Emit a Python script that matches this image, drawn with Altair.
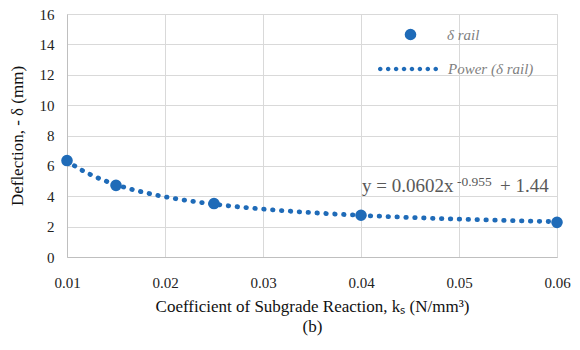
import altair as alt
import pandas as pd

# Data
k_values = [0.01, 0.015, 0.025, 0.04, 0.06]
deflection = [6.35, 4.72, 3.52, 2.75, 2.28]
series_name = "δ rail"
trend_name = "Power (δ rail)"

# Power trendline coefficients (shown on the chart): y = a*x^b + c
a_coef, b_coef, c_coef = 0.0602, -0.955, 1.44
x_ticks = [0.01, 0.02, 0.03, 0.04, 0.05, 0.06]
y_ticks = [0, 2, 4, 6, 8, 10, 12, 14, 16]
eq_parts = ["y = 0.0602x", "-0.955", "+ 1.44"]

BLUE = "#1f6bb8"
SERIF = "Liberation Serif"

# dotted legend symbol: a row of small filled circles in the unit square
def dotted_path(n=8, r=0.075):
    parts = []
    for i in range(n):
        cx = -1 + r + i * (2 - 2 * r) / (n - 1)
        parts.append(f"M{cx - r:.4f},0A{r},{r} 0 1,0 {cx + r:.4f},0A{r},{r} 0 1,0 {cx - r:.4f},0Z")
    return "".join(parts)

df = pd.DataFrame({"k": k_values, "d": deflection, "s": series_name})

axis_style = dict(labelFont=SERIF, labelFontSize=15, labelColor="#222222",
                  titleFont=SERIF, titleFontSize=17, titleFontWeight="normal", titleColor="#111111",
                  labelFlush=False, ticks=False, grid=True, gridColor="#d9d9d9",
                  domainColor="#bfbfbf")

xs = alt.X("k:Q", scale=alt.Scale(domain=[0.01, 0.06], nice=False, zero=False),
           axis=alt.Axis(values=x_ticks, format=".2f", labelPadding=18, titlePadding=8,
                         titleLineHeight=20,
                         title=["Coefficient of Subgrade Reaction, kₛ (N/mm³)", "(b)"], **axis_style))
ys = alt.Y("d:Q", scale=alt.Scale(domain=[0, 16], nice=False),
           axis=alt.Axis(values=y_ticks, labelPadding=13, titlePadding=13,
                         title="Deflection, - δ (mm)", **axis_style))

points = alt.Chart(df).mark_point(filled=True, size=135, opacity=1).encode(
    x=xs, y=ys,
    color=alt.Color("s:N", scale=alt.Scale(domain=[series_name], range=[BLUE]),
                    legend=alt.Legend(orient="none", legendX=336, legendY=13, title=None,
                                      symbolType="circle", symbolSize=135,
                                      labelOffset=29, labelFont=SERIF, labelFontSize=15,
                                      labelFontStyle="italic", labelColor="#7f7f7f")),
)

trend = alt.Chart(alt.sequence(start=0.01, stop=0.06005, step=0.0005, as_="k")).transform_calculate(
    d=f"{a_coef} * pow(datum.k, {b_coef}) + {c_coef}",
    s2=f"'{trend_name}'",
).mark_line(color=BLUE, strokeWidth=4.8, strokeCap="round").encode(
    x=xs, y=ys,
    strokeDash=alt.StrokeDash("s2:N", scale=alt.Scale(domain=[trend_name], range=[[0.5, 8.4]]),
                              legend=alt.Legend(orient="none", legendX=311, legendY=25, title=None,
                                                symbolType=dotted_path(), symbolSize=3600,
                                                symbolFillColor=BLUE, symbolStrokeColor=BLUE,
                                                symbolStrokeWidth=0,
                                                labelOffset=10, labelFont=SERIF, labelFontSize=15,
                                                labelFontStyle="italic", labelColor="#7f7f7f")),
)

eq_df = pd.DataFrame({"k": [0.0401], "d": [4.28]})
eq_main = alt.Chart(eq_df).mark_text(text=eq_parts[0], align="left", baseline="alphabetic",
                                     font=SERIF, fontSize=19, color="#595959").encode(x=xs, y=ys)
eq_sup = alt.Chart(eq_df).mark_text(text=eq_parts[1], align="left", baseline="alphabetic",
                                    font=SERIF, fontSize=13.5, color="#595959", dx=95, dy=-6).encode(x=xs, y=ys)
eq_end = alt.Chart(eq_df).mark_text(text=eq_parts[2], align="left", baseline="alphabetic",
                                    font=SERIF, fontSize=19, color="#595959", dx=138).encode(x=xs, y=ys)

chart = alt.layer(trend, points, eq_main, eq_sup, eq_end).properties(
    width=490, height=243,
    autosize=alt.AutoSizeParams(type="none"),
    padding={"left": 67, "top": 14, "right": 23, "bottom": 93},
).configure_view(stroke=None).configure(font=SERIF)

chart.save("out.html", embed_options={"renderer": "svg", "actions": False})
